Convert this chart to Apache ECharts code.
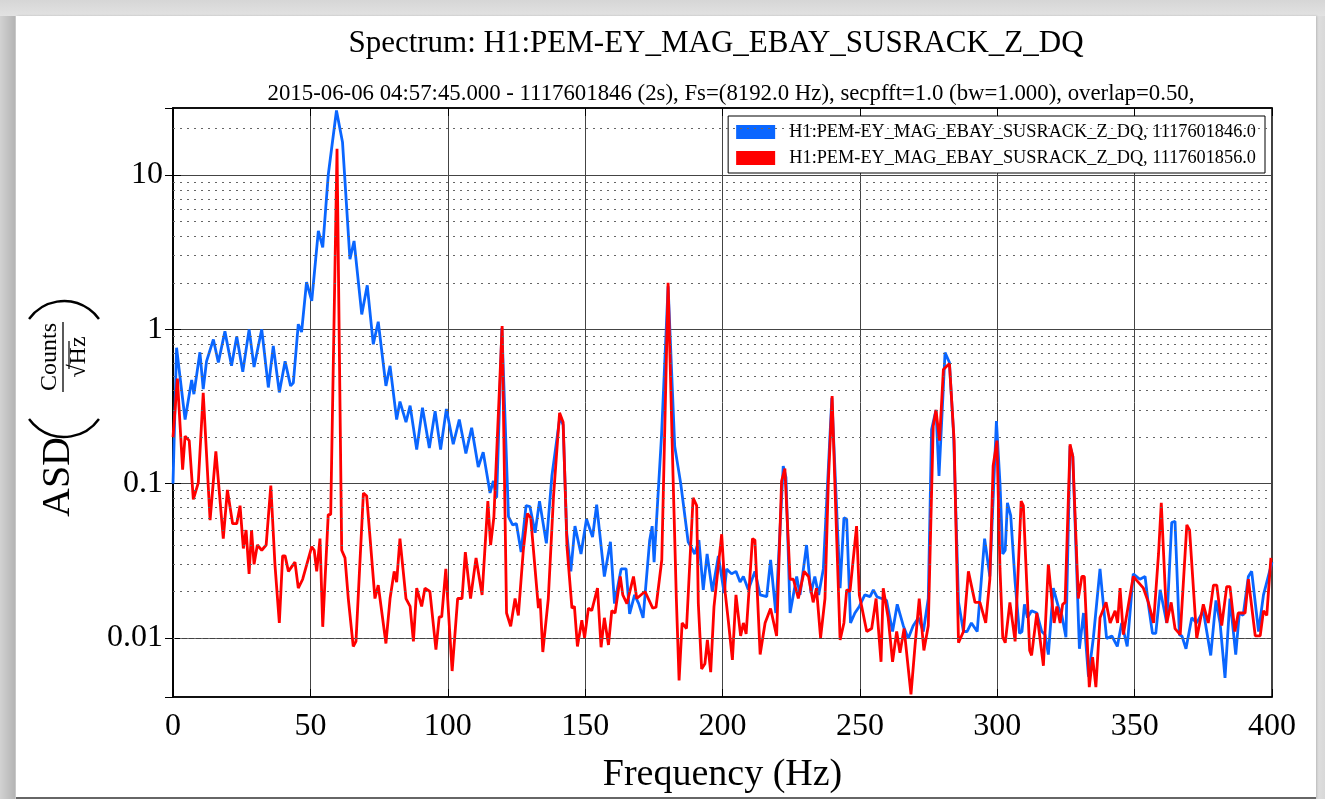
<!DOCTYPE html>
<html><head><meta charset="utf-8">
<script src="https://cdn.jsdelivr.net/npm/echarts@6/dist/echarts.min.js"></script>
<style>
html,body{margin:0;padding:0;width:1325px;height:799px;overflow:hidden;}
body{background:linear-gradient(to right,#d2d2d2 0px,#b4b4b4 15px,#e0e0e0 16px,#e0e0e0 1316px,#d8d8d8 1325px);}
#topstrip{position:absolute;left:0;top:0;width:1325px;height:16px;background:linear-gradient(#d6d6d6,#e2e2e2);}
#panel{position:absolute;left:16px;top:16px;width:1300px;height:781px;background:#fff;border-bottom:2px solid #666;box-shadow:1px 0 2px #b8b8b8;}
#main{position:absolute;left:0;top:0;width:1325px;height:799px;}
</style></head>
<body>
<div id="topstrip"></div>
<div id="panel"></div>
<div id="main"></div>
<script>
const titleText = 'Spectrum: H1:PEM-EY_MAG_EBAY_SUSRACK_Z_DQ';
const subtitleText = '2015-06-06 04:57:45.000 - 1117601846 (2s), Fs=(8192.0 Hz), secpfft=1.0 (bw=1.000), overlap=0.50,';
const seriesNames = ['H1:PEM-EY_MAG_EBAY_SUSRACK_Z_DQ, 1117601846.0', 'H1:PEM-EY_MAG_EBAY_SUSRACK_Z_DQ, 1117601856.0'];
const xTicks = [0, 50, 100, 150, 200, 250, 300, 350, 400];
const yMajorTicks = [0.01, 0.1, 1, 10];
const yMinorTicks = [0.005,0.006,0.007,0.008,0.009,0.02,0.03,0.04,0.05,0.06,0.07,0.08,0.09,0.2,0.3,0.4,0.5,0.6,0.7,0.8,0.9,2,3,4,5,6,7,8,9,20];

const blueFreq = [0,1.3,2.5,4.4,6.8,7.6,9.8,11,12.2,14.7,16.5,18.9,21.3,23.2,25.4,27.7,29.5,32.3,34.7,36.5,38.7,40.8,42.8,43.8,45.6,46.8,48.6,50.5,52.9,54.5,56.5,59.5,61.7,64.4,65.9,68.7,70.7,72.9,74.7,77.5,79,81.4,82.6,84.8,86.3,88.7,90.8,93.3,95.4,97.4,99.5,102,104.2,106.6,108.7,111.1,112.9,115.4,116.6,117.8,119.7,122.1,123.6,125,126.7,128.5,129.9,131.8,133.4,135.9,137.9,140.8,142,143.3,144.8,146.3,148.5,150.5,152.7,154.2,157,159.2,160.7,163.1,164.9,166.2,168,169.5,171.1,173.5,174.4,175.1,177.8,180.2,182.6,184.8,187.5,189.9,191.4,193,194.4,196.3,198.5,200.6,201.5,203.3,204.9,206.4,207.6,209.4,211.8,213.7,216.1,217.5,219.4,222.1,223.1,224.6,227,228.2,230.6,232.2,233.6,235,236.7,239.8,242.8,244.2,245.2,246.6,248.2,249.8,251.8,253.7,254.9,256.2,257.9,259.7,261.9,263.6,265.8,267.6,269.4,271.3,273.1,274.9,276.1,277.7,278.8,281,282.6,284.1,285.9,287.7,289,290.6,292.7,295.4,297.3,299.7,301,302,302.9,303.7,304.9,306.5,308.1,309,309.9,311,312.5,314.4,316.2,317.4,318.6,320.4,322.2,323.5,325,326.5,327.5,329.9,331.4,333.2,335,337.4,339.8,341.7,343.7,345.3,347.3,349.5,351.9,353.8,355,356.5,357.7,359.3,361.7,363.5,364.7,366.3,367.2,368.7,370.8,372.6,375,377.7,379.6,381.1,382.9,384.7,386.8,388.1,389.5,391.4,392.6,395.1,396.9,400];
const blueASD = [0.10,0.76,0.5,0.26,0.47,0.38,0.71,0.41,0.62,0.86,0.61,0.97,0.58,0.90,0.53,1.0,0.57,1.0,0.42,0.78,0.39,0.62,0.43,0.45,1.08,0.96,2.02,1.53,4.35,3.4,10,26.2,16.3,2.85,3.74,1.25,1.93,0.80,1.12,0.43,0.58,0.26,0.34,0.25,0.32,0.166,0.31,0.17,0.295,0.166,0.305,0.18,0.26,0.157,0.23,0.128,0.16,0.087,0.104,0.081,1.02,0.061,0.054,0.055,0.036,0.072,0.071,0.048,0.077,0.041,0.112,0.27,0.24,0.048,0.027,0.053,0.035,0.059,0.045,0.073,0.025,0.042,0.0167,0.028,0.028,0.0143,0.019,0.0167,0.0135,0.043,0.053,0.031,0.203,1.9,0.175,0.1,0.042,0.035,0.043,0.0205,0.035,0.02,0.034,0.0195,0.028,0.026,0.027,0.023,0.025,0.0205,0.027,0.019,0.0185,0.032,0.0145,0.13,0.11,0.0145,0.025,0.019,0.04,0.0195,0.025,0.019,0.028,0.36,0.021,0.06,0.059,0.0125,0.0145,0.016,0.019,0.0185,0.0205,0.0185,0.018,0.0175,0.011,0.0165,0.012,0.0099,0.012,0.0135,0.011,0.018,0.224,0.30,0.112,0.706,0.61,0.21,0.017,0.011,0.011,0.0125,0.011,0.044,0.025,0.254,0.1,0.035,0.037,0.075,0.062,0.023,0.0107,0.011,0.0165,0.0135,0.015,0.0145,0.011,0.0105,0.0078,0.021,0.016,0.014,0.0101,0.175,0.15,0.0085,0.0145,0.0056,0.0101,0.028,0.0099,0.0103,0.0088,0.0125,0.0088,0.026,0.024,0.025,0.0165,0.0107,0.0107,0.0205,0.0125,0.056,0.057,0.0105,0.0103,0.0085,0.0135,0.0125,0.015,0.0077,0.0175,0.0125,0.0055,0.018,0.0078,0.0145,0.014,0.025,0.027,0.011,0.019,0.031];

const redFreq = [0,1.6,3.5,4.4,5.9,7.4,9.2,11,13.5,15.6,18.3,19.8,21.7,23.2,24.4,25.6,26.6,27.7,28.6,29.5,30.7,32.3,33.9,35.6,37.1,38.7,39.9,40.8,42,44.4,45.6,47.2,50.5,51.4,52.3,53.5,54.5,56.5,57.4,59.7,61.4,62.6,63.8,64.4,65.6,66.6,69.3,70.5,73.5,74.7,77.5,79,80.5,81.4,82.6,84.8,86.3,87.5,88.7,90.5,91.7,93.5,95.7,96.9,97.8,99.3,101.6,103.6,105.2,106.4,108.3,110.3,112.5,114.6,115.6,116.8,119.8,121.4,122.9,124.5,125.7,127.5,129,130.2,133,133.6,134.6,136.6,138.5,140.7,142,143.4,145.2,146.1,147.2,148.8,149.8,151.2,152.4,154.5,155.8,157,158.5,159.7,160.9,162.8,163.7,165.2,167.6,168.8,171.8,174.6,175.8,177.9,180.2,182,183.2,184.2,185.3,186.9,189.3,190.6,191.2,192.4,193.6,194.5,195.7,196.9,199.7,201,202.2,203.6,204.9,206.6,207.6,208.6,210.9,211.8,213.7,215.5,217.5,219.7,221.5,222.7,224.6,225.8,227.6,229.7,231.3,233,234.2,235.7,237.3,238.5,239.9,240.9,242.8,244.2,245.2,246.4,248.8,249.8,252.5,254.3,255.9,257.7,258.5,260.3,261.9,263.4,264.6,266.1,268.6,270.1,271.6,273.3,274.9,276.7,277.7,279,280.4,282.6,284.3,285.9,287.7,289.5,291.9,293.7,295.8,297.3,298.5,299.9,301,302,302.9,304.6,306.5,308.7,309.5,311.8,312.5,314.4,316.8,318.6,320.7,321.7,322.9,323.8,324.7,326.5,327.5,329.5,330.8,331.7,333.5,334.7,335.9,337.4,339.6,341.1,342.9,343.8,344.7,345.9,349.5,351.3,353.2,355,356.9,358.7,359.7,361.7,363.3,364.7,366.6,369,370,372.6,375,376.8,378.7,379.9,381.7,383.5,384.7,386.5,387.7,390.2,391.4,393.9,395.7,396.9,398.1,399.6];
const redASD = [0.2,0.48,0.123,0.203,0.19,0.079,0.101,0.388,0.058,0.162,0.044,0.091,0.055,0.055,0.072,0.038,0.05,0.026,0.05,0.030,0.04,0.037,0.04,0.097,0.03,0.0125,0.034,0.034,0.027,0.031,0.021,0.024,0.039,0.037,0.027,0.044,0.0118,0.063,0.063,14.8,0.037,0.033,0.018,0.018,0.0088,0.0095,0.087,0.083,0.018,0.022,0.0092,0.018,0.027,0.023,0.044,0.018,0.016,0.0095,0.021,0.016,0.021,0.02,0.0084,0.0137,0.0137,0.028,0.0061,0.018,0.018,0.036,0.018,0.033,0.019,0.077,0.04,0.061,1.05,0.0145,0.0119,0.018,0.014,0.037,0.064,0.06,0.0156,0.018,0.0081,0.018,0.083,0.288,0.25,0.039,0.0156,0.016,0.0088,0.013,0.01,0.0156,0.015,0.021,0.0087,0.0135,0.009,0.015,0.0145,0.025,0.019,0.0167,0.025,0.018,0.02,0.0156,0.0158,0.032,2.0,0.112,0.018,0.0053,0.0125,0.0115,0.081,0.072,0.0167,0.0063,0.0068,0.0097,0.006,0.0159,0.047,0.0195,0.0125,0.0072,0.019,0.0103,0.0125,0.0106,0.044,0.043,0.0078,0.0125,0.0155,0.0103,0.104,0.125,0.024,0.024,0.018,0.027,0.025,0.017,0.021,0.01,0.018,0.1,0.37,0.1,0.0097,0.0125,0.0205,0.02,0.053,0.019,0.011,0.0115,0.018,0.007,0.021,0.0135,0.007,0.011,0.008,0.0115,0.0043,0.009,0.018,0.0083,0.012,0.236,0.30,0.19,0.55,0.6,0.19,0.0093,0.011,0.027,0.017,0.017,0.0125,0.024,0.13,0.19,0.028,0.0101,0.0093,0.017,0.0095,0.077,0.072,0.0083,0.0077,0.0145,0.0066,0.03,0.0125,0.016,0.0125,0.0165,0.017,0.18,0.15,0.018,0.025,0.025,0.0048,0.0075,0.0048,0.0135,0.017,0.0125,0.015,0.0125,0.021,0.0105,0.025,0.023,0.021,0.017,0.0125,0.035,0.075,0.0125,0.017,0.0115,0.0105,0.054,0.05,0.0099,0.0165,0.0125,0.022,0.022,0.012,0.0215,0.0215,0.011,0.0145,0.0145,0.024,0.0103,0.0103,0.015,0.014,0.033];

const FONT = '"Liberation Serif", "DejaVu Serif", serif';
const chart = echarts.init(document.getElementById('main'), null, {renderer: 'canvas'});

function pairs(fs, vs) { return fs.map((f, i) => [f, vs[i]]); }
function yfmt(v) { return String(Number(v.toPrecision(3))); }

const rot = Math.PI / 2;
const PR = 43, PA = 0.95;
const option = {
  animation: false,
  backgroundColor: 'transparent',
  grid: {left: 173, right: 53, top: 108, bottom: 102, containLabel: false, outerBoundsMode: 'none',
         show: true, borderColor: '#000', borderWidth: 1.5, backgroundColor: 'transparent'},
  legend: {
    data: seriesNames, orient: 'vertical', right: 60, top: 116,
    backgroundColor: '#fff', borderColor: '#000', borderWidth: 1,
    padding: [7, 9, 6, 8], itemGap: 8, itemWidth: 39, itemHeight: 14, icon: 'rect',
    formatter: n => '  ' + n,
    textStyle: {fontFamily: FONT, fontSize: 18.3, color: '#000'}
  },
  xAxis: [{
    type: 'value', min: 0, max: 400, interval: 50,
    name: 'Frequency (Hz)', nameLocation: 'middle', nameGap: 59,
    nameTextStyle: {fontFamily: FONT, fontSize: 38, color: '#000'},
    axisLine: {show: true, lineStyle: {color: '#000', width: 1.5}},
    axisTick: {show: true, inside: true, length: 8, lineStyle: {color: '#000'}},
    axisLabel: {fontFamily: FONT, fontSize: 32, color: '#000', margin: 14},
    splitLine: {show: true, lineStyle: {color: '#444', width: 1}}
  }, {
    type: 'value', position: 'top', min: 0, max: 400, interval: 50,
    axisLine: {show: true, lineStyle: {color: '#000', width: 1.5}},
    axisTick: {show: true, inside: true, length: 8, lineStyle: {color: '#000'}},
    axisLabel: {show: false}, splitLine: {show: false}
  }],
  yAxis: [{
    type: 'log', logBase: 10, min: 0.00414, max: 27.2,
    axisLine: {show: true, lineStyle: {color: '#000', width: 1.5}},
    axisTick: {show: true, inside: true, length: 8, lineStyle: {color: '#000'}},
    axisLabel: {fontFamily: FONT, fontSize: 32, color: '#000', margin: 10, showMinLabel: false, showMaxLabel: false, formatter: yfmt},
    splitLine: {show: true, lineStyle: {color: '#444', width: 1}}
  }, {
    type: 'log', logBase: 10, min: 0.00414, max: 27.2, position: 'right',
    axisLine: {show: true, lineStyle: {color: '#000', width: 1.5}},
    axisTick: {show: true, inside: true, length: 8, lineStyle: {color: '#000'}},
    axisLabel: {show: false}, splitLine: {show: false}
  }],
  series: [
    {
      type: 'line', name: '_minor', data: [], silent: true, z: 1,
      markLine: {
        silent: true, symbol: ['none', 'none'], animation: false,
        label: {show: false},
        lineStyle: {color: '#666', width: 1, type: [2, 5]},
        data: yMinorTicks.map(v => ({yAxis: v}))
      }
    },
    {
      type: 'line', name: seriesNames[0], data: pairs(blueFreq, blueASD), z: 3,
      showSymbol: false, symbol: 'none', color: '#0a66ff',
      lineStyle: {color: '#0a66ff', width: 2.8}
    },
    {
      type: 'line', name: seriesNames[1], data: pairs(redFreq, redASD), z: 4,
      showSymbol: false, symbol: 'none', color: '#ff0000',
      lineStyle: {color: '#ff0000', width: 2.8}
    }
  ],
  graphic: [
    {type: 'text', x: 716, y: 44, style: {text: titleText, fontFamily: FONT, fontSize: 31, fill: '#000', align: 'center', verticalAlign: 'middle'}},
    {type: 'text', x: 731, y: 94, style: {text: subtitleText, fontFamily: FONT, fontSize: 22.8, fill: '#000', align: 'center', verticalAlign: 'middle'}},
    {type: 'text', x: 58, y: 477, rotation: rot, style: {text: 'ASD', fontFamily: FONT, fontSize: 40, fill: '#000', align: 'center', verticalAlign: 'middle'}},
    {type: 'arc', shape: {cx: 64, cy: 437 - PR, r: PR, startAngle: Math.PI / 2 - PA, endAngle: Math.PI / 2 + PA, clockwise: true}, style: {stroke: '#000', fill: null, lineWidth: 2.4}},
    {type: 'arc', shape: {cx: 64, cy: 301 + PR, r: PR, startAngle: -Math.PI / 2 - PA, endAngle: -Math.PI / 2 + PA, clockwise: true}, style: {stroke: '#000', fill: null, lineWidth: 2.4}},
    {type: 'text', x: 50, y: 357, rotation: rot, style: {text: 'Counts', fontFamily: FONT, fontSize: 24, fill: '#000', align: 'center', verticalAlign: 'middle'}},
    {type: 'line', shape: {x1: 63, y1: 322, x2: 63, y2: 392}, style: {stroke: '#000', lineWidth: 1.3}},
    {type: 'text', x: 79, y: 357, rotation: rot, style: {text: '√Hz', fontFamily: FONT, fontSize: 24, fill: '#000', align: 'center', verticalAlign: 'middle'}},
    {type: 'line', shape: {x1: 69, y1: 341, x2: 69, y2: 369}, style: {stroke: '#000', lineWidth: 1.2}}
  ]
};
chart.setOption(option);
</script>
</body></html>
